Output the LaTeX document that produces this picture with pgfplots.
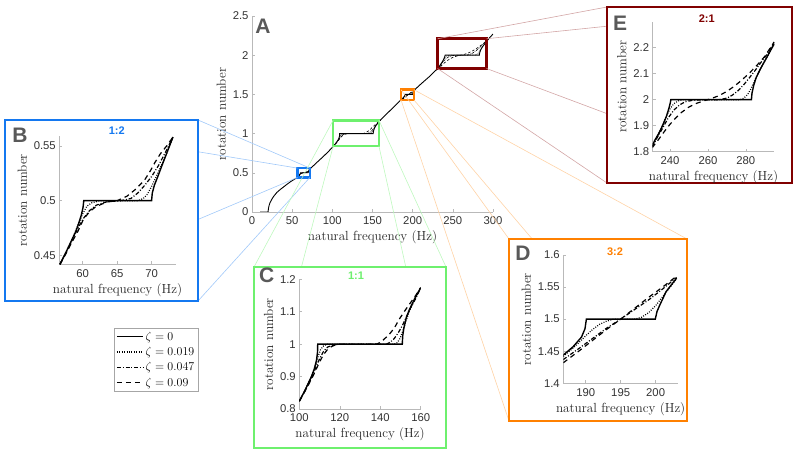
\documentclass[border=0pt]{standalone}
\usepackage{fontspec}
\usepackage{pgfplots}
\pgfplotsset{compat=1.18}
\usepackage{pgfplotstable}
\newfontfamily\arial{Liberation Sans}
\newcommand\ticksfont{\arial\fontsize{11.3}{12}\selectfont}
\newcommand\labfont{\fontsize{13.2}{14}\selectfont}
\definecolor{cB}{RGB}{20,120,240}
\definecolor{cC}{RGB}{110,240,110}
\definecolor{cD}{RGB}{255,128,0}
\definecolor{cE}{RGB}{128,0,0}

\pgfplotstableread{
x y
10 0
20 0
20.4 0.04
21.2 0.08
22.5 0.12
24.5 0.16
27 0.2
31 0.25
35.5 0.29
40 0.325
45 0.365
50 0.4
54 0.425
57 0.442
58 0.455
59 0.468
59.6 0.478
60 0.487
60.2 0.494
60.3 0.5
69.8 0.5
69.9 0.506
70.2 0.513
70.6 0.52
71.2 0.53
72 0.542
73 0.557
80 0.625
85 0.672
90 0.72
95 0.77
100 0.824
103 0.86
106 0.9
107.5 0.925
108.5 0.95
109 0.975
109.1 1.0
150.9 1.0
151.1 1.025
151.7 1.05
152.8 1.08
154.3 1.105
157 1.14
160 1.174
170 1.275
180 1.375
186.7 1.444
188.2 1.457
189.4 1.472
189.9 1.485
190.1 1.5
199.95 1.5
200.2 1.512
200.6 1.522
201.5 1.543
203 1.564
210 1.63
220 1.72
230.3 1.822
232 1.845
234 1.87
236 1.9
238 1.935
239.3 1.965
240 1.985
240.4 2.0
283 2.0
283.3 2.025
284.2 2.055
285.5 2.085
287.5 2.115
290.5 2.155
295 2.214
300 2.27
}\Azero

\pgfplotstableread{
x y
56.7 0.442
57.5 0.452
58.4 0.464
59 0.472
59.4 0.479
59.8 0.487
60.05 0.494
60.15 0.5
70 0.5
70.1 0.507
70.4 0.514
70.9 0.522
71.5 0.532
72.3 0.545
73.1 0.558
}\Bzero
\pgfplotstableread{
x y
56.7 0.442
58.4 0.464
59.4 0.479
60 0.488
60.6 0.495
61.3 0.498
62.5 0.5
68 0.5
68.8 0.502
69.4 0.506
70 0.513
70.6 0.521
71.4 0.532
72.3 0.545
73.1 0.558
}\Bone
\pgfplotstableread{
x y
56.7 0.442
58 0.458
59 0.471
60 0.483
61 0.491
62 0.496
63.5 0.499
65.5 0.5
67 0.502
68 0.507
69 0.514
70 0.522
71 0.532
72 0.544
73.1 0.558
}\Btwo
\pgfplotstableread{
x y
56.7 0.442
57.5 0.451
58.5 0.463
59.3 0.472
60.1 0.483
61 0.49
61.8 0.494
62.8 0.497
63.7 0.499
65 0.5
66.4 0.504
67.6 0.51
68.4 0.515
69 0.519
69.8 0.527
70.5 0.535
71.3 0.543
72.2 0.55
73.1 0.558
}\Bthree

\pgfplotstableread{
x y
100 0.824
103 0.86
106 0.9
107.5 0.925
108.5 0.95
109 0.975
109.1 1.0
150.9 1.0
151.1 1.025
151.7 1.05
152.8 1.08
154.3 1.105
157 1.14
160 1.174
}\Czero
\pgfplotstableread{
x y
100 0.824
103 0.86
106 0.9
108 0.935
109.3 0.962
110.5 0.983
112 0.995
114 1.0
147 1.0
148.5 1.005
149.8 1.018
151 1.038
152.4 1.065
154.3 1.1
157 1.14
160 1.174
}\Cone
\pgfplotstableread{
x y
100 0.824
103 0.858
106 0.895
108 0.925
110 0.955
112 0.978
114 0.991
117 0.998
120 1.0
143 1.0
145 1.006
147 1.018
149 1.036
151 1.058
153 1.085
155 1.112
157.5 1.14
160 1.174
}\Ctwo
\pgfplotstableread{
x y
100 0.824
103 0.857
106 0.892
107.8 0.915
110 0.945
111.9 0.967
114 0.984
116.1 0.993
118 0.998
120 1.0
138 1.0
139.3 1.003
141.5 1.013
144.3 1.029
147 1.05
149.3 1.076
151 1.092
152.6 1.107
155 1.128
157.5 1.15
160 1.174
}\Cthree

\pgfplotstableread{
x y
186.8 1.444
188.2 1.457
189.4 1.472
189.9 1.485
190.1 1.5
199.95 1.5
200.2 1.512
200.6 1.522
201.5 1.543
203 1.564
}\Dzero
\pgfplotstableread{
x y
186.8 1.442
188 1.453
189 1.463
190 1.474
191 1.484
192 1.492
193 1.497
194 1.5
197 1.5
198 1.503
199 1.51
200 1.521
201 1.535
202 1.549
203 1.563
}\Done
\pgfplotstableread{
x y
186.8 1.437
189 1.454
191 1.47
193 1.486
195 1.5
197 1.515
199 1.53
201 1.547
203 1.565
}\Dtwo
\pgfplotstableread{
x y
186.8 1.432
189 1.45
191 1.467
193 1.484
195 1.5
197 1.517
199 1.534
201 1.55
203 1.567
}\Dthree

\pgfplotstableread{
x y
230.5 1.822
232 1.845
234 1.87
236 1.9
238 1.935
239.3 1.965
240 1.985
240.4 2.0
283 2.0
283.3 2.025
284.2 2.055
285.5 2.085
287.5 2.115
290.5 2.155
295 2.214
}\Ezero
\pgfplotstableread{
x y
230.5 1.822
234 1.87
236 1.9
238 1.937
240 1.965
242 1.985
244.5 1.996
247 2.0
277 2.0
279 2.006
281 2.02
283 2.045
285 2.078
287.5 2.115
291 2.16
295 2.216
}\Eone
\pgfplotstableread{
x y
230.5 1.818
233 1.852
236 1.89
239 1.93
242 1.96
245 1.98
248 1.992
252 1.998
258 2.0
266 2.0
270 2.006
273 2.018
276 2.035
279 2.058
282 2.085
285 2.113
288 2.143
291 2.172
295 2.22
}\Etwo
\pgfplotstableread{
x y
230.5 1.815
234 1.848
237 1.878
240 1.906
243 1.93
246 1.951
250 1.972
254 1.986
258 1.996
262 2.005
266 2.016
270 2.032
274 2.052
278 2.076
282 2.103
286 2.133
290 2.166
295 2.222
}\Ethree

\pgfplotsset{
  panel/.style={scale only axis, anchor=south west,
    axis lines*=left,
    axis line style={draw=gray!55, line width=0.6pt, -},
    tick style={draw=gray!55, line width=0.5pt},
    tick align=inside, major tick length=3pt,
    tick label style={font=\ticksfont, text=black!80},
    xticklabel style={yshift=-1.5pt},
    label style={font=\labfont, text=black!85},
    xlabel={natural frequency (Hz)},
    ylabel={rotation number},
    xlabel style={yshift=1pt},
    /pgf/number format/assume math mode=true},
  z0/.style={black, line width=1.4pt, solid},
  z1/.style={black, line width=1.2pt, dash pattern=on 0.9pt off 1.5pt},
  z2/.style={black, line width=1.2pt, dash pattern=on 4pt off 1.8pt on 1pt off 1.8pt},
  z3/.style={black, line width=1.2pt, dash pattern=on 5pt off 4pt},
  a0/.style={black, line width=0.9pt, solid},
  a1/.style={black, line width=0.6pt, dash pattern=on 0.6pt off 1pt},
  a2/.style={black, line width=0.6pt, dash pattern=on 2.5pt off 1pt on 0.6pt off 1pt},
  a3/.style={black, line width=0.6pt, dash pattern=on 2.5pt off 2pt},
}

\begin{document}
\begin{tikzpicture}[x=1pt,y=1pt]
\path[use as bounding box] (0,0) rectangle (800,457);

% ---------- main axis A ----------
\begin{axis}[panel, at={(252pt,245pt)}, width=241pt, height=196pt,
  xmin=0, xmax=300, ymin=0, ymax=2.5,
  xtick={0,50,100,150,200,250,300}, ytick={0,0.5,1,1.5,2,2.5},
  legend style={at={(-0.5726,-0.5918)}, anchor=north west, draw=gray!70,
    line width=0.5pt, font=\fontsize{11.5}{12}\selectfont,
    inner xsep=2pt, inner ysep=1.5pt, row sep=1.5pt, cells={anchor=west}},
  legend image code/.code={\draw[#1] (0pt,0pt) -- (26pt,0pt);}]
\addlegendimage{z0}\addlegendentry{$\zeta = 0$}
\addlegendimage{z1}\addlegendentry{$\zeta = 0.019$}
\addlegendimage{z2}\addlegendentry{$\zeta = 0.047$}
\addlegendimage{z3}\addlegendentry{$\zeta = 0.09$}
\addplot[a1, forget plot] table {\Bone};
\addplot[a2, forget plot] table {\Btwo};
\addplot[a3, forget plot] table {\Bthree};
\addplot[a1, forget plot] table {\Cone};
\addplot[a2, forget plot] table {\Ctwo};
\addplot[a3, forget plot] table {\Cthree};
\addplot[a1, forget plot] table {\Done};
\addplot[a2, forget plot] table {\Dtwo};
\addplot[a3, forget plot] table {\Dthree};
\addplot[a1, forget plot] table {\Eone};
\addplot[a2, forget plot] table {\Etwo};
\addplot[a3, forget plot] table {\Ethree};
\addplot[a0, forget plot] table {\Azero};
\draw[cB, line width=2.5pt] (axis cs:56.5,0.44) rectangle (axis cs:72,0.56);
\draw[cC, line width=2.5pt] (axis cs:101,0.84) rectangle (axis cs:158,1.17);
\draw[cD, line width=2.5pt] (axis cs:185.5,1.43) rectangle (axis cs:201.5,1.56);
\draw[cE, line width=2.5pt] (axis cs:231,1.83) rectangle (axis cs:292,2.21);
\coordinate (bTL) at (axis cs:56.5,0.56); \coordinate (bTR) at (axis cs:72,0.56);
\coordinate (bBL) at (axis cs:56.5,0.44); \coordinate (bBR) at (axis cs:72,0.44);
\coordinate (cTL) at (axis cs:101,1.17); \coordinate (cTR) at (axis cs:158,1.17);
\coordinate (cBL) at (axis cs:101,0.84); \coordinate (cBR) at (axis cs:158,0.84);
\coordinate (dTL) at (axis cs:185.5,1.56); \coordinate (dTR) at (axis cs:201.5,1.56);
\coordinate (dBL) at (axis cs:185.5,1.43); \coordinate (dBR) at (axis cs:201.5,1.43);
\coordinate (eTL) at (axis cs:231,2.21); \coordinate (eTR) at (axis cs:292,2.21);
\coordinate (eBL) at (axis cs:231,1.83); \coordinate (eBR) at (axis cs:292,1.83);
\end{axis}

% ---------- connectors ----------
\begin{scope}[line width=0.6pt]
\draw[cB!40] (bTL) -- (5,337); \draw[cB!40] (bTR) -- (198,337);
\draw[cB!40] (bBL) -- (5,156); \draw[cB!40] (bBR) -- (198,156);
\draw[cC!45] (cTL) -- (254,190); \draw[cC!45] (cTR) -- (446,190);
\draw[cC!45] (cBL) -- (254,9); \draw[cC!45] (cBR) -- (446,9);
\draw[cD!35] (dTL) -- (509,218); \draw[cD!35] (dTR) -- (687,218);
\draw[cD!35] (dBL) -- (509,36); \draw[cD!35] (dBR) -- (687,36);
\draw[cE!35] (eTL) -- (607,450); \draw[cE!35] (eTR) -- (792,450);
\draw[cE!35] (eBL) -- (607,274); \draw[cE!35] (eBR) -- (792,274);
\end{scope}

% ---------- frames ----------
\draw[cB, line width=2.5pt, fill=white] (5,156) rectangle (198,337);
\draw[cC, line width=2.5pt, fill=white] (254,9) rectangle (446,190);
\draw[cD, line width=2.5pt, fill=white] (509,36) rectangle (687,218);
\draw[cE, line width=2.5pt, fill=white] (607,274) rectangle (792,450);

% ---------- inset B ----------
\begin{axis}[panel, at={(59.3pt,192.7pt)}, width=116.4pt, height=128.3pt,
  xmin=56.6, xmax=73.5, ymin=0.442, ymax=0.559,
  xtick={60,65,70}, ytick={0.45,0.5,0.55}]
\addplot[z1] table {\Bone};
\addplot[z2] table {\Btwo};
\addplot[z3] table {\Bthree};
\addplot[z0] table {\Bzero};
\end{axis}

% ---------- inset C ----------
\begin{axis}[panel, at={(299.3pt,48pt)}, width=121.4pt, height=129.7pt,
  xmin=100, xmax=160, ymin=0.8, ymax=1.2,
  xtick={100,120,140,160}, ytick={0.8,0.9,1,1.1,1.2}]
\addplot[z1] table {\Cone};
\addplot[z2] table {\Ctwo};
\addplot[z3] table {\Cthree};
\addplot[z0] table {\Czero};
\end{axis}

% ---------- inset D ----------
\begin{axis}[panel, at={(563.3pt,73.7pt)}, width=114.7pt, height=128.3pt,
  xmin=186.8, xmax=203.2, ymin=1.4, ymax=1.6,
  xtick={190,195,200}, ytick={1.4,1.45,1.5,1.55,1.6}]
\addplot[z1] table {\Done};
\addplot[z2] table {\Dtwo};
\addplot[z3] table {\Dthree};
\addplot[z0] table {\Dzero};
\end{axis}

% ---------- inset E ----------
\begin{axis}[panel, at={(652.7pt,305.3pt)}, width=121.6pt, height=130pt,
  xmin=230.8, xmax=295.1, ymin=1.8, ymax=2.3,
  xtick={240,260,280}, ytick={1.8,1.9,2,2.1,2.2}]
\addplot[z1] table {\Eone};
\addplot[z2] table {\Etwo};
\addplot[z3] table {\Ethree};
\addplot[z0] table {\Ezero};
\end{axis}

% ---------- letters and titles ----------
\begin{scope}[every node/.style={font=\arial\bfseries\fontsize{21}{21}\selectfont, text=black!65}]
\node at (263,431) {A};
\node at (20,322) {B};
\node at (266.7,182) {C};
\node at (523,204) {D};
\node at (620,434) {E};
\end{scope}
\begin{scope}[every node/.style={font=\arial\bfseries\fontsize{11}{12}\selectfont}]
\node[text=cB] at (116.7,326.3) {1:2};
\node[text=cC] at (356,181.3) {1:1};
\node[text=cD] at (615,205.3) {3:2};
\node[text=cE] at (706.7,438.7) {2:1};
\end{scope}
\end{tikzpicture}
\end{document}
